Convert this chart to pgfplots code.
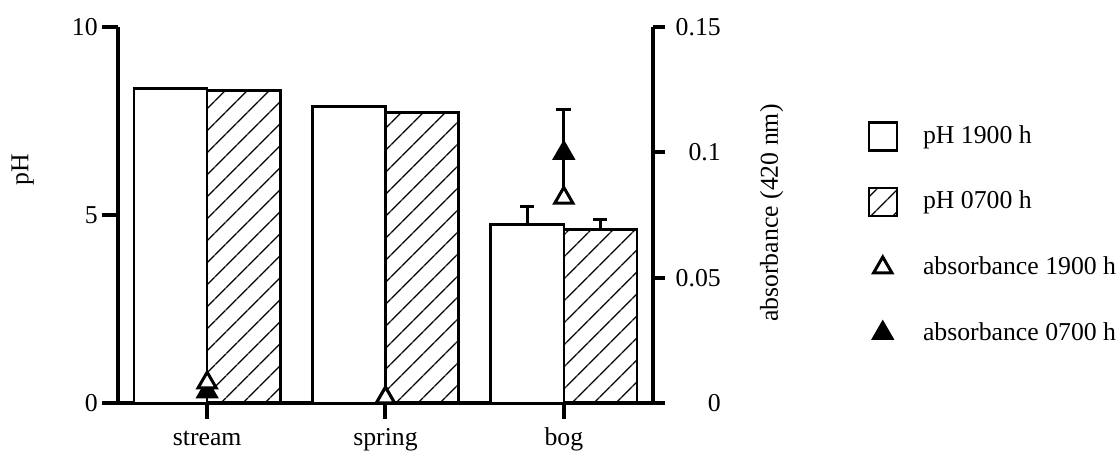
\documentclass[border=0pt]{standalone}
\usepackage{fontspec}
\setmainfont{Liberation Serif}
\usepackage{pgfplots}
\pgfplotsset{compat=1.18}
\usetikzlibrary{patterns.meta}

\begin{document}
\begin{tikzpicture}
\useasboundingbox (-47.2pt,-19.6pt) rectangle (400.8pt,161.2pt);
\pgfplotsset{every axis/.append style={font=\fontsize{10.3}{12.4}\selectfont}}
\begin{axis}[
  at={(0pt,0pt)}, anchor=south west,
  scale only axis, width=214pt, height=150.4pt,
  xmin=-0.5, xmax=2.5, ymin=0, ymax=10,
  axis x line*=bottom, axis y line*=left,
  axis line style={line width=1.6pt},
  xtick={0,1,2}, xticklabels={stream,spring,bog},
  ytick={0,5,10}, yticklabels={0,5,10},
  tick align=outside, major tick length=6.4pt,
  tick style={line width=1.6pt, black},
  xticklabel style={text height=0.7em, text depth=0.2em},
  yticklabel style={inner sep=1.5pt},
  ylabel={pH},
  ylabel style={at={(axis description cs:-0.178,0.62)}, anchor=center},
  ybar=0pt, bar width=0.41,
  clip=false,
]
\addplot[draw=black, line width=1pt, fill=white,
  error bars/.cd, y dir=plus, y explicit, error mark=|,
  error bar style={line width=1.2pt, black},
  error mark options={line width=1.2pt, mark size=2.8pt, black}]
  coordinates {(0,8.37) +- (0,0) (1,7.88) +- (0,0) (2,4.75) +- (0,0.47)};
\addplot[draw=black, line width=1pt, pattern={Lines[angle=45,distance=6.4pt,line width=0.6pt]},
  error bars/.cd, y dir=plus, y explicit, error mark=|,
  error bar style={line width=1.2pt, black},
  error mark options={line width=1.2pt, mark size=2.8pt, black}]
  coordinates {(0,8.31) +- (0,0) (1,7.73) +- (0,0) (2,4.62) +- (0,0.27)};
\end{axis}

\begin{axis}[
  at={(0pt,0pt)}, anchor=south west,
  scale only axis, width=214pt, height=150.4pt,
  xmin=-0.5, xmax=2.5, ymin=0, ymax=0.15,
  axis x line=none, axis y line*=right,
  axis line style={line width=1.6pt},
  ytick={0,0.05,0.1,0.15}, yticklabels={0,0.05,0.1,0.15},
  tick align=outside, major tick length=4.8pt,
  tick style={line width=1.6pt, black},
  yticklabel style={text width=21.6pt, align=right, inner sep=0.5pt},
  ylabel={absorbance (420 nm)},
  ylabel style={at={(axis description cs:1.222,0.505)}, anchor=center},
  clip=false,
  legend style={at={(axis description cs:1.386,0.766)}, anchor=north west,
    draw=none, fill=none, row sep=13.6pt, column sep=8pt},
  legend cell align=left,
]
\addlegendimage{legend image code/.code={\draw[line width=1pt, fill=white] (0.3cm-5.6pt,-5.6pt) rectangle (0.3cm+5.6pt,5.6pt);}}
\addlegendimage{legend image code/.code={\draw[line width=1pt, pattern={Lines[angle=45,distance=6.4pt,line width=0.6pt]}] (0.3cm-5.6pt,-5.6pt) rectangle (0.3cm+5.6pt,5.6pt);}}
\addlegendimage{only marks, mark=triangle*, mark size=4.2pt, mark options={fill=white, draw=black, line width=1.2pt}}
\addlegendimage{only marks, mark=triangle*, mark size=4.2pt, mark options={fill=black, draw=black, line width=1.2pt}}
\legend{pH 1900 h, pH 0700 h, absorbance 1900 h, absorbance 0700 h}

% absorbance 0700 h (filled)
\addplot[only marks, mark=triangle*, mark size=4.2pt,
  mark options={fill=black, draw=black, line width=1.2pt}]
  coordinates {(0,0.0045) (1,0.0021)};
\addplot[only marks, mark=triangle*, mark size=4.2pt,
  mark options={fill=black, draw=black, line width=1.2pt},
  error bars/.cd, y dir=plus, y explicit, error mark=|,
  error bar style={line width=1.2pt, black},
  error mark options={line width=1.2pt, mark size=3pt, black}]
  coordinates {(2,0.0997) +- (0,0.0172)};
% absorbance 1900 h (open)
\addplot[only marks, mark=triangle*, mark size=4.2pt,
  mark options={fill=white, draw=black, line width=1.2pt},
  error bars/.cd, y dir=plus, y explicit, error mark=none,
  error bar style={line width=1.2pt, black}]
  coordinates {(2,0.0818) +- (0,0.0179)};
\addplot[only marks, mark=triangle*, mark size=4.2pt,
  mark options={fill=white, draw=black, line width=1.2pt}]
  coordinates {(0,0.0081) (1,0.0021)};
\end{axis}
\end{tikzpicture}
\end{document}
